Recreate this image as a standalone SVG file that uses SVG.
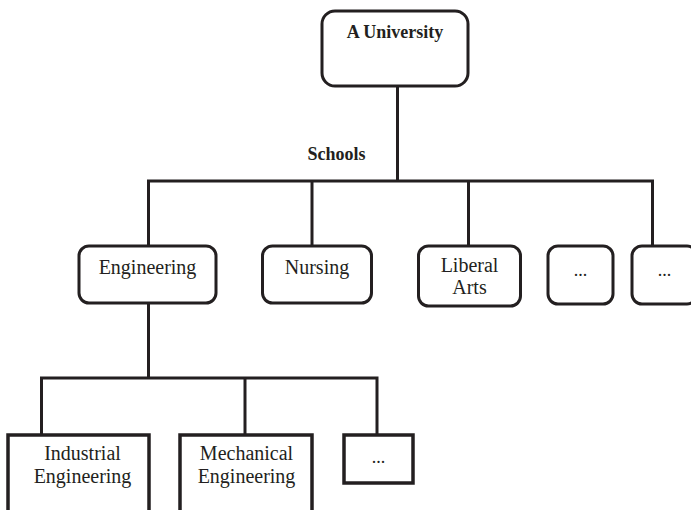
<svg xmlns="http://www.w3.org/2000/svg" width="691" height="510" viewBox="0 0 691 510">
<style>
.rb{fill:#fff;stroke:#231f20;stroke-width:3}
.sb{fill:#fff;stroke:#231f20;stroke-width:3.5}
.ln{fill:none;stroke:#231f20;stroke-width:3}
text{font-family:"Liberation Serif","DejaVu Serif",serif;fill:#231f20;text-anchor:middle}
.t{font-size:20px}
.d{font-size:18px}
.b{font-size:18px;font-weight:bold}
</style>
<rect width="691" height="510" fill="#fff"/>
<g id="connectors">
<polyline class="ln" points="397.5,86 397.5,181"/>
<polyline class="ln" points="148.5,246 148.5,181 652.5,181 652.5,246"/>
<line class="ln" x1="312" y1="181" x2="312" y2="246"/>
<line class="ln" x1="468.5" y1="181" x2="468.5" y2="246"/>
<polyline class="ln" points="148.5,303 148.5,378"/>
<polyline class="ln" points="41.5,435 41.5,378 377,378 377,435"/>
<line class="ln" x1="245" y1="378" x2="245" y2="435"/>
<text class="b" x="336.5" y="160">Schools</text>
</g>
<g id="university">
<rect class="rb" x="322" y="11" width="146" height="75" rx="13"/>
<text class="b" x="395" y="38">A University</text>
</g>
<g id="engineering">
<rect class="rb" x="79" y="246" width="137" height="57" rx="10"/>
<text class="t" x="147.5" y="274">Engineering</text>
</g>
<g id="nursing">
<rect class="rb" x="262.5" y="246" width="109" height="57" rx="10"/>
<text class="t" x="317" y="274">Nursing</text>
</g>
<g id="liberal-arts">
<rect class="rb" x="418.5" y="246" width="102" height="60" rx="10"/>
<text class="t" x="469.5" y="272">Liberal</text>
<text class="t" x="469.5" y="294">Arts</text>
</g>
<g id="school-more-1">
<rect class="rb" x="548" y="246" width="65" height="58" rx="10"/>
<text class="d" x="580.5" y="276">...</text>
</g>
<g id="school-more-2">
<rect class="rb" x="632" y="246" width="65" height="58" rx="10"/>
<text class="d" x="664.5" y="276">...</text>
</g>
<g id="industrial">
<rect class="sb" x="8" y="435" width="141" height="80"/>
<text class="t" x="82.5" y="460">Industrial</text>
<text class="t" x="82.5" y="483">Engineering</text>
</g>
<g id="mechanical">
<rect class="sb" x="180" y="435" width="132" height="80"/>
<text class="t" x="246.5" y="460">Mechanical</text>
<text class="t" x="246.5" y="483">Engineering</text>
</g>
<g id="dept-more">
<rect class="sb" x="344" y="435" width="69" height="48"/>
<text class="d" x="378.5" y="463">...</text>
</g>
</svg>
